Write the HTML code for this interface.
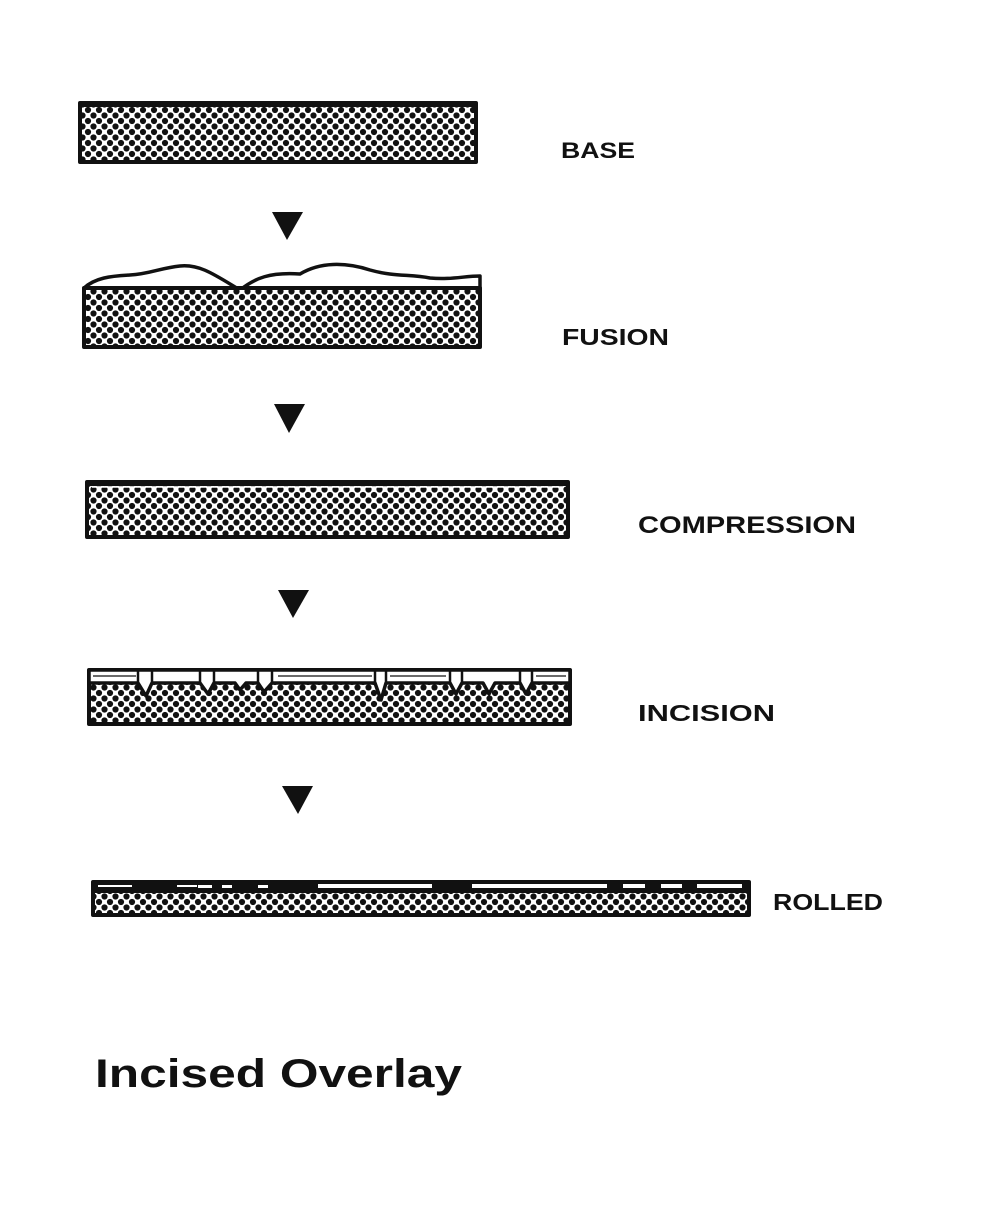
<!DOCTYPE html>
<html><head><meta charset="utf-8"><style>html,body{margin:0;padding:0;background:#fff}svg{display:block}</style></head>
<body>
<svg width="986" height="1222" viewBox="0 0 986 1222" xmlns="http://www.w3.org/2000/svg">
<defs>
<pattern id="d" width="11" height="11" patternUnits="userSpaceOnUse">
<rect width="11" height="11" fill="#fff"/>
<circle cx="0" cy="0" r="3.1" fill="#111"/><circle cx="11" cy="0" r="3.1" fill="#111"/>
<circle cx="0" cy="11" r="3.1" fill="#111"/><circle cx="11" cy="11" r="3.1" fill="#111"/>
<circle cx="5.5" cy="5.5" r="3.1" fill="#111"/>
</pattern>
</defs>
<g stroke="#111" stroke-linejoin="round">
<!-- BASE -->
<rect x="80" y="103" width="396" height="59" fill="url(#d)" stroke-width="4"/>
<line x1="80" y1="104" x2="476" y2="104" stroke-width="6"/>
<!-- FUSION -->
<path d="M84 288 C95 278 110 276 130 275 C150 274 160 268 180 266 C200 264 215 275 240 290 C255 278 270 272 300 274 C320 262 345 262 370 270 C395 277 410 274 430 278 C450 280 465 276 480 276 L480 288 Z" fill="#fff" stroke-width="3.5"/>
<rect x="84" y="288" width="396" height="59" fill="url(#d)" stroke-width="4"/>
<!-- COMPRESSION -->
<rect x="87" y="482" width="481" height="55" fill="url(#d)" stroke-width="4"/>
<rect x="87" y="481" width="481" height="5" fill="#111" stroke="none"/>
<line x1="92" y1="487" x2="564" y2="487" stroke="#fff" stroke-width="1.5"/>
<!-- INCISION -->
<rect x="89" y="670" width="481" height="54" fill="url(#d)" stroke-width="4"/>
<path d="M89 670 H570 V683 H532 L526 694 L520 683 H495 L489 694 L483 683 H462 L456 694 L450 683 H386 L381 700 L375 683 H272 L264 692 L258 683 H246 L240 690 L235 683 H214 L208 694 L200 683 H152 L146 696 L138 683 H89 Z" fill="#fff" stroke-width="3.5"/>
<g stroke-width="2.5">
<line x1="138" y1="671" x2="138" y2="683"/><line x1="152" y1="671" x2="152" y2="683"/>
<line x1="200" y1="671" x2="200" y2="683"/><line x1="214" y1="671" x2="214" y2="683"/>
<line x1="258" y1="671" x2="258" y2="683"/><line x1="272" y1="671" x2="272" y2="683"/>
<line x1="375" y1="671" x2="375" y2="683"/><line x1="386" y1="671" x2="386" y2="683"/>
<line x1="450" y1="671" x2="450" y2="683"/><line x1="462" y1="671" x2="462" y2="683"/>
<line x1="520" y1="671" x2="520" y2="683"/><line x1="532" y1="671" x2="532" y2="683"/>
</g>
<g stroke-width="1.2">
<line x1="93" y1="676" x2="136" y2="676"/><line x1="278" y1="676" x2="372" y2="676"/>
<line x1="390" y1="676" x2="446" y2="676"/><line x1="536" y1="676" x2="566" y2="676"/>
</g>
<!-- ROLLED -->
<rect x="93" y="882" width="656" height="33" fill="url(#d)" stroke-width="4"/>
<path d="M93 881 H749 V893 H93 Z" fill="#111" stroke="none"/>
<g fill="#fff" stroke="none">
<rect x="98" y="885" width="34" height="2"/><rect x="177" y="885" width="20" height="2"/>
<rect x="198" y="885" width="14" height="3"/><rect x="222" y="885" width="10" height="3"/>
<rect x="258" y="885" width="10" height="3"/><rect x="318" y="884" width="114" height="4"/>
<rect x="472" y="884" width="135" height="4"/><rect x="623" y="884" width="22" height="4"/>
<rect x="661" y="884" width="21" height="4"/><rect x="697" y="884" width="45" height="4"/>
</g>
</g>
<!-- arrows -->
<g fill="#111">
<polygon points="272,212 303,212 287,240"/>
<polygon points="274,404 305,404 289,433"/>
<polygon points="278,590 309,590 293,618"/>
<polygon points="282,786 313,786 298,814"/>
</g>
<g font-family="Liberation Sans, sans-serif" font-weight="bold" fill="#111">
<text x="561" y="158" font-size="22" textLength="74" lengthAdjust="spacingAndGlyphs">BASE</text>
<text x="562" y="345" font-size="23" textLength="107" lengthAdjust="spacingAndGlyphs">FUSION</text>
<text x="638" y="533" font-size="24" textLength="218" lengthAdjust="spacingAndGlyphs">COMPRESSION</text>
<text x="638" y="721" font-size="23" textLength="137" lengthAdjust="spacingAndGlyphs">INCISION</text>
<text x="773" y="910" font-size="23" textLength="110" lengthAdjust="spacingAndGlyphs">ROLLED</text>
<text x="95" y="1087" font-size="40" textLength="367" lengthAdjust="spacingAndGlyphs">Incised Overlay</text>
</g>
</svg>
</body></html>
